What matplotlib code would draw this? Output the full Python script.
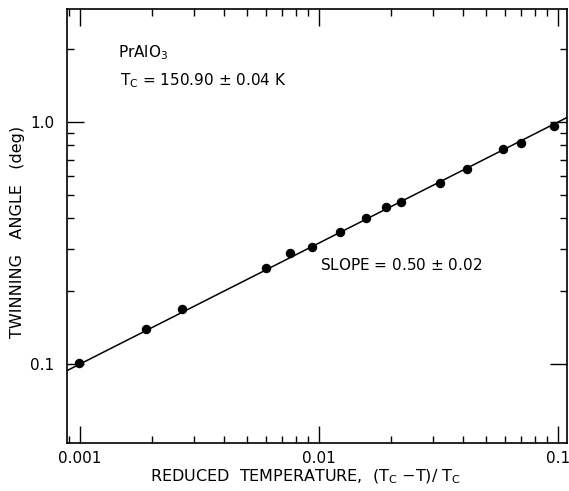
import numpy as np
import matplotlib
matplotlib.use("Agg")
import matplotlib.pyplot as plt
from matplotlib.ticker import LogLocator, NullFormatter, FixedLocator, FixedFormatter

# Data
reduced_temp = [0.00099, 0.00189, 0.00267, 0.0060, 0.00757, 0.00935, 0.01225,
                0.01574, 0.01905, 0.02204, 0.0321, 0.0416, 0.0589, 0.0700, 0.0962]
twin_angle = [0.101, 0.1395, 0.169, 0.249, 0.288, 0.304, 0.351,
              0.401, 0.445, 0.467, 0.560, 0.639, 0.773, 0.819, 0.963]

fit_slope = 0.50
fit_value_at_0p1 = 1.0
fit_x = [0.00088, 0.11]

x_tick_vals = [0.001, 0.01, 0.1]
x_tick_labels = ["0.001", "0.01", "0.1"]
y_tick_vals = [0.1, 1.0]
y_tick_labels = ["0.1", "1.0"]

plt.rcParams['font.family'] = ['DejaVu Sans']
FS = 11

fig = plt.figure(figsize=(5.69, 4.91), dpi=100)
ax = fig.add_axes([67/569, 1-443/491, 500/569, 434/491])

fx = np.array(fit_x)
fy = fit_value_at_0p1 * (fx / 0.1) ** fit_slope
ax.plot(fx, fy, color='black', lw=1.1, solid_capstyle='butt')
ax.plot(reduced_temp, twin_angle, 'o', color='black', ms=5.8)

ax.set_xscale('log')
ax.set_yscale('log')
ax.set_xlim(0.000883, 0.109)
ax.set_ylim(0.0472, 2.93)

ax.xaxis.set_major_locator(FixedLocator(x_tick_vals))
ax.xaxis.set_major_formatter(FixedFormatter(x_tick_labels))
ax.yaxis.set_major_locator(FixedLocator(y_tick_vals))
ax.yaxis.set_major_formatter(FixedFormatter(y_tick_labels))
ax.xaxis.set_minor_locator(LogLocator(base=10, subs=np.arange(2, 10)))
ax.xaxis.set_minor_formatter(NullFormatter())
ax.yaxis.set_minor_locator(FixedLocator([0.2, 0.3, 0.4, 0.5, 0.6, 0.7, 0.8, 0.9, 2.0]))
ax.yaxis.set_minor_formatter(NullFormatter())

ax.tick_params(which='both', direction='in', top=True, right=True, width=1.0,
               labelsize=FS)
ax.tick_params(axis='x', which='both', pad=6)
ax.tick_params(axis='y', which='both', pad=9)
ax.tick_params(which='major', length=12)
ax.tick_params(which='minor', length=5)
for s in ax.spines.values():
    s.set_linewidth(1.2)

ax.set_xlabel("REDUCED  TEMPERATURE,  (T$_\\mathregular{C}$ $-$T)/ T$_\\mathregular{C}$",
              fontsize=FS + 0.5)
ax.xaxis.set_label_coords(0.476, -0.056)
ax.xaxis.label.set_va('top')
ax.set_ylabel("TWINNING   ANGLE   (deg)", fontsize=FS + 0.5)
ax.yaxis.set_label_coords(-0.084, 0.486)

ax.text(0.102, 0.889, "PrAlO$_\\mathregular{3}$", transform=ax.transAxes, fontsize=FS)
ax.text(0.106, 0.825, "T$_\\mathregular{C}$ = 150.90 $\\pm$ 0.04 K", transform=ax.transAxes,
        fontsize=FS)
ax.text(0.506, 0.399, "SLOPE = 0.50 $\\pm$ 0.02", transform=ax.transAxes, fontsize=FS)

fig.savefig("out.png", dpi=100)
